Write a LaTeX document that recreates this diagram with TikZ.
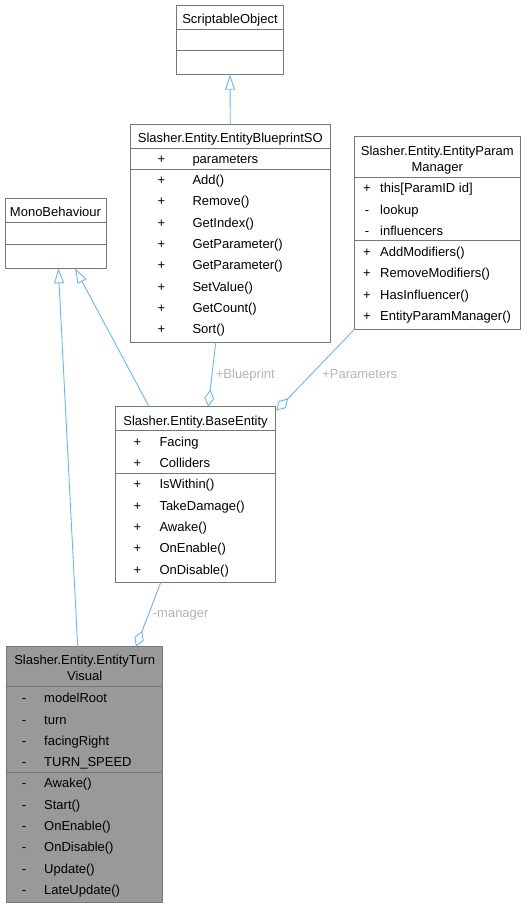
\documentclass[tikz,border=0pt]{standalone}
\usepackage{fontspec}
\setmainfont{Liberation Sans}
\usetikzlibrary{arrows.meta,calc}
\definecolor{edgeblue}{HTML}{63B8FF}
\definecolor{boxgray}{HTML}{777777}
\definecolor{lblgray}{HTML}{B4B4B4}
\definecolor{focusgray}{HTML}{999999}
\tikzset{
  classbox/.style={draw=boxgray, line width=0.9pt, fill=white, inner sep=0pt, outer sep=0pt, anchor=north west},
  sepline/.style={draw=boxgray, line width=0.9pt},
  ttl/.style={anchor=base, inner sep=0pt, font=\fontsize{13}{15}\selectfont},
  vis/.style={anchor=base, inner sep=0pt, font=\fontsize{13}{15}\selectfont},
  mem/.style={anchor=base west, inner sep=0pt, font=\fontsize{13}{15}\selectfont},
  lbl/.style={anchor=base, inner sep=0pt, text=lblgray, font=\fontsize{13}{15}\selectfont},
  inherit/.style={draw=edgeblue, line width=0.9pt, -{Triangle[open, length=15pt, width=10pt, fill=white]}},
  aggr/.style={draw=edgeblue, line width=0.9pt, -{Diamond[open, length=17pt, width=10pt, fill=white]}}
}
\begin{document}
\begin{tikzpicture}[x=1pt, y=-1pt]
\useasboundingbox (0,0) rectangle (528,908);

\node[classbox, minimum width=106.6pt, minimum height=69.7pt] (so) at (176.7,5) {};
\draw[sepline] (so.west |- 0,29.3) -- (so.east |- 0,29.3);
\draw[sepline] (so.west |- 0,50.7) -- (so.east |- 0,50.7);
\node[ttl] (so-t) at (230,23) {ScriptableObject};

\node[classbox, minimum width=200pt, minimum height=218.7pt] (bp) at (130.3,124) {};
\draw[sepline] (bp.west |- 0,148) -- (bp.east |- 0,148);
\draw[sepline] (bp.west |- 0,169) -- (bp.east |- 0,169);
\node[ttl] (bp-t) at (230.3,142.8) {Slasher.Entity.EntityBlueprintSO};
\foreach \n [count=\i from 0] in {parameters, Add(), Remove(), GetIndex(), GetParameter(), GetParameter(), SetValue(), GetCount(), Sort()} {
  \node[vis] (bp-v\i) at (161.3,163.3+21.3*\i) {+};
  \node[mem] (bp-r\i) at (192.3,163.3+21.3*\i) {\n};
}

\node[classbox, minimum width=165.3pt, minimum height=192.3pt] (pm) at (354.7,136.7) {};
\draw[sepline] (pm.west |- 0,177.7) -- (pm.east |- 0,177.7);
\draw[sepline] (pm.west |- 0,240.7) -- (pm.east |- 0,240.7);
\node[ttl] (pm-t1) at (437.3,155.5) {Slasher.Entity.EntityParam};
\node[ttl] (pm-t2) at (437.3,171) {Manager};
\foreach \s/\n [count=\i from 0] in {+/this[ParamID id], -/lookup, -/influencers, +/AddModifiers(), +/RemoveModifiers(), +/HasInfluencer(), +/EntityParamManager()} {
  \node[vis] (pm-v\i) at (367,192.7+21.3*\i) {\s};
  \node[mem] (pm-r\i) at (380,192.7+21.3*\i) {\n};
}

\node[classbox, minimum width=101pt, minimum height=70pt] (mb) at (5,198.3) {};
\draw[sepline] (mb.west |- 0,222.7) -- (mb.east |- 0,222.7);
\draw[sepline] (mb.west |- 0,244) -- (mb.east |- 0,244);
\node[ttl] (mb-t) at (55.5,216) {MonoBehaviour};

\node[classbox, minimum width=159.6pt, minimum height=176pt] (be) at (115.7,406.7) {};
\draw[sepline] (be.west |- 0,430.3) -- (be.east |- 0,430.3);
\draw[sepline] (be.west |- 0,473.3) -- (be.east |- 0,473.3);
\node[ttl] (be-t) at (195.5,425) {Slasher.Entity.BaseEntity};
\foreach \n [count=\i from 0] in {Facing, Colliders, IsWithin(), TakeDamage(), Awake(), OnEnable(), OnDisable()} {
  \node[vis] (be-v\i) at (137.3,446.3+21.3*\i) {+};
  \node[mem] (be-r\i) at (159.3,446.3+21.3*\i) {\n};
}

\node[classbox, fill=focusgray, minimum width=156pt, minimum height=256pt] (tv) at (6.7,646.7) {};
\draw[sepline] (tv.west |- 0,686.7) -- (tv.east |- 0,686.7);
\draw[sepline] (tv.west |- 0,772) -- (tv.east |- 0,772);
\node[ttl] (tv-t1) at (84.7,664) {Slasher.Entity.EntityTurn};
\node[ttl] (tv-t2) at (84.7,680.5) {Visual};
\foreach \n [count=\i from 0] in {modelRoot, turn, facingRight, TURN\_SPEED, Awake(), Start(), OnEnable(), OnDisable(), Update(), LateUpdate()} {
  \node[vis] (tv-v\i) at (24,702.7+21.3*\i) {-};
  \node[mem] (tv-r\i) at (44,702.7+21.3*\i) {\n};
}

\draw[inherit] (bp.north) -- (so.south);
\draw[inherit] ($(be.north west)!0.209!(be.north east)$) -- ($(mb.south west)!0.693!(mb.south east)$);
\draw[inherit] ($(tv.north west)!0.455!(tv.north east)$) -- ($(mb.south west)!0.528!(mb.south east)$);

\draw[aggr] ($(bp.south west)!0.427!(bp.south east)$) -- ($(be.north west)!0.58!(be.north east)$);
\draw[aggr] (pm.south west) -- ($(be.north east)+(1,4)$);
\draw[aggr] ($(be.south west)!0.282!(be.south east)$) -- ($(tv.north west)!0.829!(tv.north east)$);

\node[lbl] (l-bp) at (245.3,378.5) {+Blueprint};
\node[lbl] (l-pm) at (359.7,378.5) {+Parameters};
\node[lbl] (l-tv) at (180.7,617.3) {-manager};
\end{tikzpicture}
\end{document}
